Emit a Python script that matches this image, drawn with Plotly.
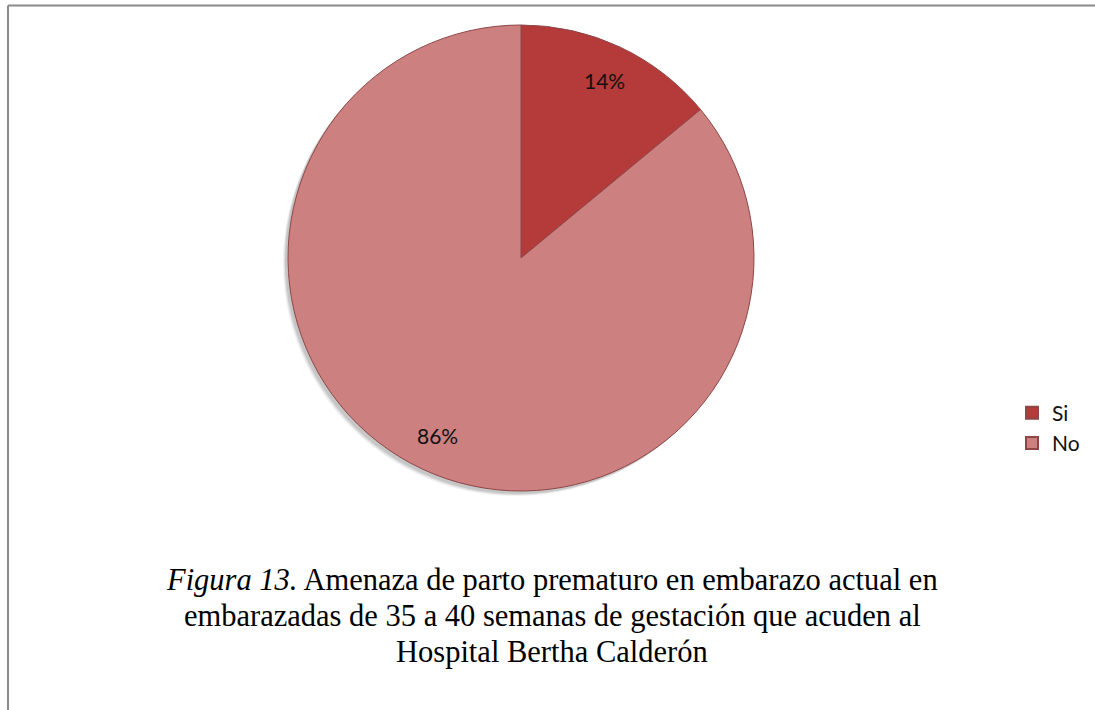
import math
import plotly.graph_objects as go

labels = ["Si", "No"]
values = [14, 86]
colors = ["#b53a3a", "#cc8080"]
caption_lines = [
    "<i>Figura 13.</i> Amenaza de parto prematuro en embarazo actual en",
    "embarazadas de 35 a 40 semanas de gestación que acuden al",
    "Hospital Bertha Calderón",
]

W, H = 1095, 710
cx, cy, R = 521, 258, 233
label_font = dict(family="Lato, Open Sans, sans-serif", size=21, color="#111111")


def dom(dx=0, dy=0):
    return dict(x=[(cx - R + dx) / W, (cx + R + dx) / W],
                y=[1 - (cy + R + dy) / H, 1 - (cy - R + dy) / H])


fig = go.Figure()
# soft shadow
for off, a in [(5, 0.06), (4, 0.08), (3, 0.10)]:
    fig.add_trace(go.Pie(
        labels=labels, values=values, sort=False, direction="clockwise", rotation=0,
        marker=dict(colors=[f"rgba(0,0,0,{a})"] * 2, line=dict(width=0)),
        textinfo="none", hoverinfo="skip", showlegend=False, domain=dom(-off, off),
    ))
fig.add_trace(go.Pie(
    labels=labels, values=values, sort=False, direction="clockwise", rotation=0,
    marker=dict(colors=colors, line=dict(color="#8e4646", width=1)),
    textinfo="none",
    domain=dom(),
    hoverinfo="label+percent",
))

# percentage labels placed along each slice's mid angle (derived from values)
annotations = []
total = sum(values)
start = 0.0
for lab, v in zip(labels, values):
    frac = v / total
    mid = (start + frac / 2) * 2 * math.pi
    start += frac
    r = 0.84 * R
    px = cx + r * math.sin(mid)
    py = cy - r * math.cos(mid)
    annotations.append(dict(
        text=f"{round(frac * 100)}%", xref="paper", yref="paper",
        x=px / W, y=1 - py / H, xanchor="center", yanchor="middle",
        showarrow=False, font=label_font,
    ))

for i, line in enumerate(caption_lines):
    annotations.append(dict(
        text=line, xref="paper", yref="paper", x=552 / W, y=1 - (580 + 36 * i) / H,
        xanchor="center", yanchor="middle", showarrow=False,
        font=dict(family="Liberation Serif, Times New Roman, serif", size=30.5, color="#000000"),
    ))

shapes = [
    dict(type="line", xref="paper", yref="paper", x0=8 / W, x1=1.0, y0=1 - 5.5 / H, y1=1 - 5.5 / H,
         line=dict(color="#8a8a8a", width=2)),
    dict(type="line", xref="paper", yref="paper", x0=8 / W, x1=8 / W, y0=0, y1=1 - 5.5 / H,
         line=dict(color="#8a8a8a", width=2)),
]

fig.update_layout(
    width=W, height=H, margin=dict(l=0, r=0, t=0, b=0),
    paper_bgcolor="white", plot_bgcolor="white",
    shapes=shapes, annotations=annotations,
    legend=dict(x=1012 / W, y=1 - 428 / H, xanchor="left", yanchor="middle",
                font=label_font, itemsizing="constant", bgcolor="rgba(0,0,0,0)",
                itemwidth=30),
    showlegend=True,
)

fig.write_html("out.html", config={"displayModeBar": False},
               post_script="document.body.style.margin='0';document.body.style.overflow='hidden';")
